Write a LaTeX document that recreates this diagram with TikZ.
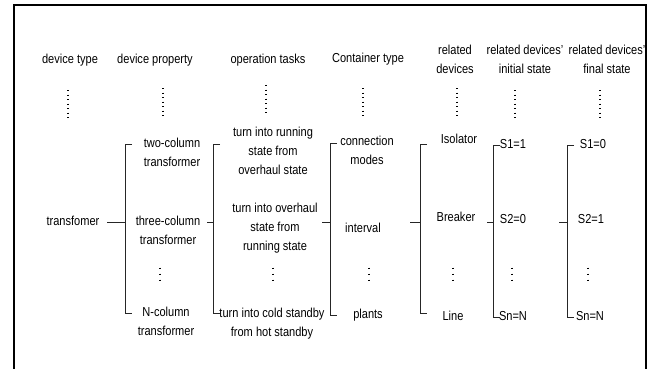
\documentclass[tikz,border=0pt]{standalone}
\usepackage{fontspec}
\setmainfont{Liberation Sans}[FakeStretch=0.85]

\begin{document}
\begin{tikzpicture}[
        x=1pt, y=-1pt,
        lbl/.style={
          inner sep=0pt,
          align=center,
          font=\fontsize{13}{19}\selectfont
          },
        one/.style={
          lbl,
          text height=9.4pt,
          text depth=2.7pt
          },
        brk/.style={line width=0.7pt, draw=black!85},
        frame/.style={line width=1.6pt},
        dotcol/.style={line width=1.4pt, dash pattern=on 1.4pt off 3.1pt},
        vdot/.style={line width=1.2pt, dash pattern=on 1.2pt off 4.8pt}
        ]
        \useasboundingbox (0,0) rectangle (648,369);
        \draw[frame] (14,369) -- (14,5) -- (646,5) -- (646,369);
        % column heads
        \node[one] (dt-h) at (70,60) {device type};
        \node[one] (dp-h) at (155,60) {device property};
        \node[one] (ot-h) at (268,60) {operation tasks};
        \node[one] (ct-h) at (368,59) {Container type};
        \node[lbl] (rd-h) at (455,59) {related\\devices};
        \node[lbl] (is-h) at (525,59) {related devices'\\initial state};
        \node[lbl] (fs-h) at (607,59) {related devices'\\final state};
        \foreach \dx/\dy in {68/90,163/88,266/85,363/88,457/88,515/90,600/90}
          \draw[dotcol] (\dx,\dy) -- (\dx,\dy+28.5);
        % items
        \node[one] (tf) at (73,222) {transfomer};
        \node[lbl] (p1) at (172,152) {two-column\\transformer};
        \node[lbl] (p2) at (168,230) {three-column\\transformer};
        \node[lbl] (p3) at (166,321) {N-column\\transformer};
        \node[lbl] (o1) at (273,151) {turn into running\\state from\\overhaul state};
        \node[lbl] (o2) at (275,228) {turn into overhaul\\state from\\running state};
        \node[lbl] (o3) at (272,324) {turn into cold standby\\from hot standby};
        \node[lbl] (c1) at (367,150) {connection\\modes};
        \node[one] (c2) at (363,229) {interval};
        \node[one] (c3) at (368,315) {plants};
        \node[one] (r1) at (459,140) {Isolator};
        \node[one] (r2) at (456,218) {Breaker};
        \node[one] (r3) at (453,317) {Line};
        \node[one] (i1) at (513,145) {S1=1};
        \node[one] (i2) at (513,220) {S2=0};
        \node[one] (i3) at (513,317) {Sn=N};
        \node[one] (f1) at (593,145) {S1=0};
        \node[one] (f2) at (591,220) {S2=1};
        \node[one] (f3) at (590,317) {Sn=N};
        \foreach \dx in {160,273,369,453,512,588}
          \draw[vdot] (\dx,267.5) -- (\dx,280.7);
        % brackets
        \foreach \n/\bx/\ty/\by/\sx in {p/125/144/313/107,o/213/144/313/207,c/330/143/315/322,r/420/144/313/410,i/493/145/317/487,f/567/145/317/559}
        {
          \coordinate (\n-in) at (\sx,222);
          \coordinate (\n-mid) at (\bx,222);
          \coordinate (\n-top) at (\bx,\ty);
          \coordinate (\n-bot) at (\bx,\by);
          \draw[brk] (\n-in) -- (\n-mid);
          \draw[brk] ([xshift=7pt]\n-top) -- (\n-top) -- (\n-bot) -- ([xshift=7pt]\n-bot);
        }
\end{tikzpicture}
\end{document}
